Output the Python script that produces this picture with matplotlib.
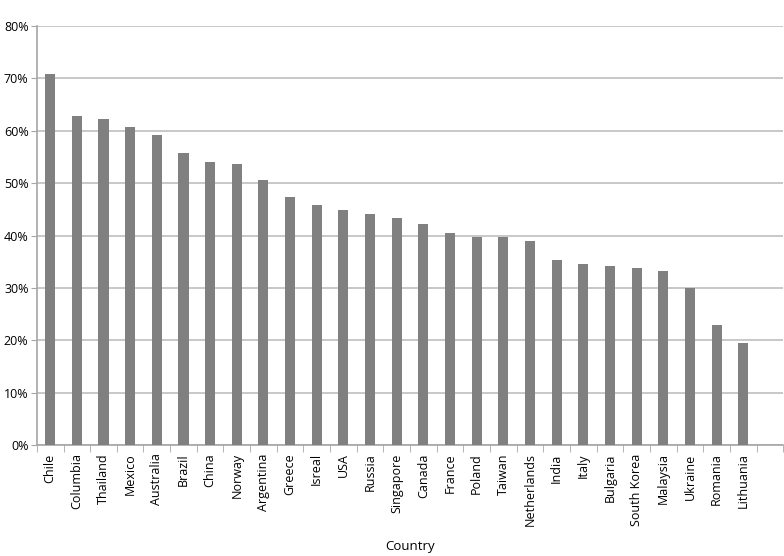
import numpy as np
import matplotlib.pyplot as plt
from matplotlib.ticker import FixedLocator, PercentFormatter

# data
countries = ['Chile', 'Columbia', 'Thailand', 'Mexico', 'Australia', 'Brazil', 'China',
             'Norway', 'Argentina', 'Greece', 'Isreal', 'USA', 'Russia', 'Singapore',
             'Canada', 'France', 'Poland', 'Taiwan', 'Netherlands', 'India', 'Italy',
             'Bulgaria', 'South Korea', 'Malaysia', 'Ukraine', 'Romania', 'Lithuania']
values = [70.8, 62.9, 62.2, 60.8, 59.3, 55.7, 54.1, 53.6, 50.7, 47.4, 45.9, 44.8, 44.1,
          43.3, 42.3, 40.5, 39.7, 39.7, 38.9, 35.3, 34.6, 34.2, 33.8, 33.2, 29.9, 22.9, 19.5]

plt.rcParams['font.family'] = ['Open Sans', 'DejaVu Sans']

fig = plt.figure(figsize=(7.84, 5.56), dpi=100)
ax = fig.add_axes([0.047, 0.1996, 0.952, 0.7534])

x = np.arange(len(countries))
ax.bar(x, values, width=0.38, color='#808080', zorder=3)

# one empty slot after the last country, as in the original
n_slots = len(countries) + 1
ax.set_xlim(-0.5, n_slots - 0.5)
ax.set_ylim(0, 80)

ax.set_xticks(x)
ax.set_xticklabels(countries, rotation=90, fontsize=9)
ax.tick_params(axis='x', which='major', length=0, pad=6)
ax.xaxis.set_minor_locator(FixedLocator(np.arange(n_slots + 1) - 0.5))
ax.tick_params(axis='x', which='minor', length=5, color='#a6a6a6', direction='out')

ax.set_yticks(np.arange(0, 81, 10))
ax.yaxis.set_major_formatter(PercentFormatter(decimals=0))
ax.tick_params(axis='y', length=4, color='#a6a6a6', labelsize=9, pad=2)

ax.grid(axis='y', color='#bfbfbf', linewidth=1.2, zorder=0)
for side in ['top', 'right']:
    ax.spines[side].set_visible(False)
for side in ['left', 'bottom']:
    ax.spines[side].set_color('#a6a6a6')
    ax.spines[side].set_linewidth(1.2)

ax.set_xlabel('Country', fontsize=9.5, labelpad=10)

fig.savefig('out.png', dpi=100)
